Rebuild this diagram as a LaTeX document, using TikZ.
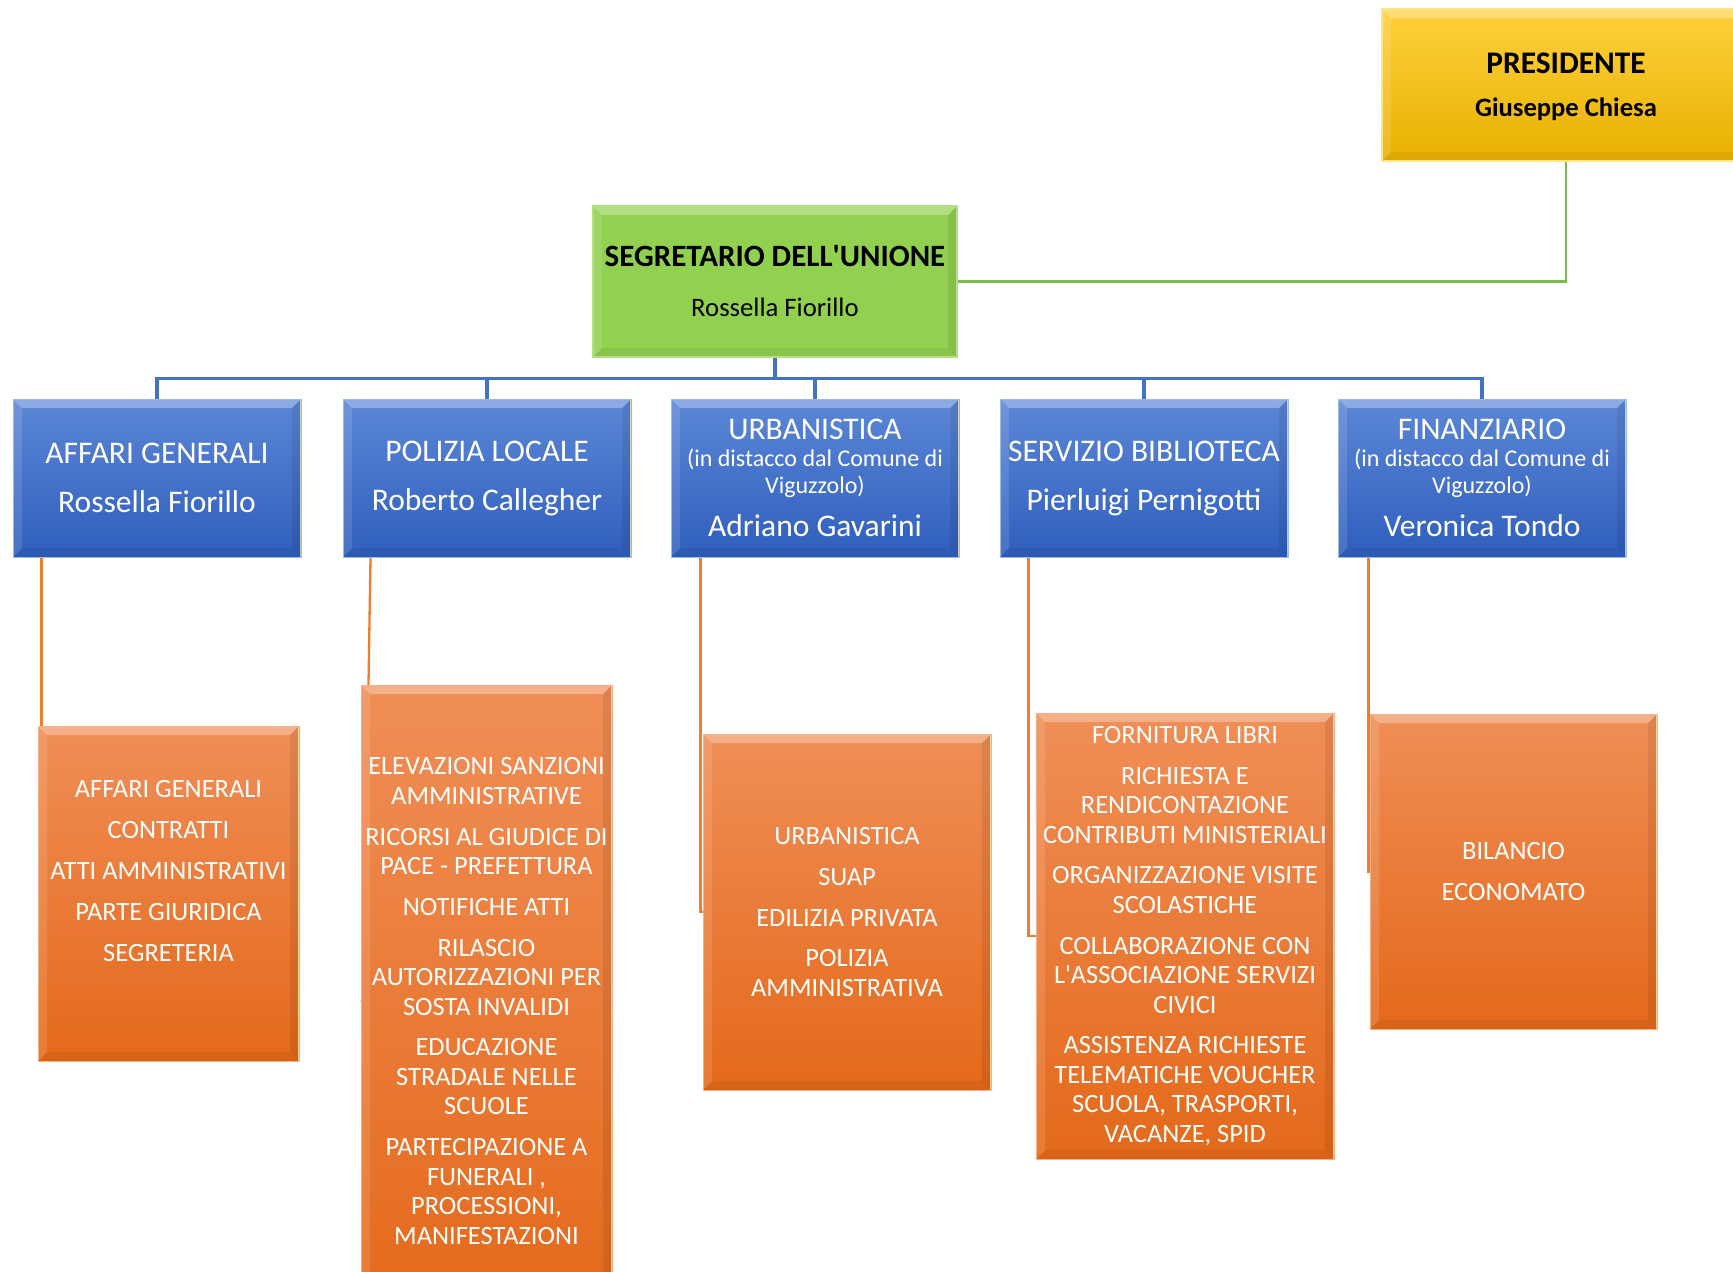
\documentclass[tikz,border=0pt]{standalone}
\usepackage{fontspec}
\setmainfont{Carlito}
\usetikzlibrary{calc}
\definecolor{goldT}{HTML}{FFD03C}
\definecolor{goldB}{HTML}{E8B100}
\definecolor{greenF}{HTML}{92D050}
\definecolor{blueT}{HTML}{5C87D7}
\definecolor{blueB}{HTML}{2F5EBD}
\definecolor{oraT}{HTML}{F08E57}
\definecolor{oraB}{HTML}{E4691A}
\definecolor{blinecol}{HTML}{4472C4}
\definecolor{glinecol}{HTML}{7ABD4C}
\definecolor{olinecol}{HTML}{ED7D31}
\pgfdeclarelayer{bg}
\pgfsetlayers{bg,main}
\tikzset{
  bevel/.style={path picture={
    \path (path picture bounding box.north west) coordinate (bvNW)
          (path picture bounding box.north east) coordinate (bvNE)
          (path picture bounding box.south west) coordinate (bvSW)
          (path picture bounding box.south east) coordinate (bvSE);
    \fill[white,opacity=.30] (bvNW) -- (bvNE) -- ([shift={(-9pt,-9pt)}]bvNE) -- ([shift={(9pt,-9pt)}]bvNW) -- cycle;
    \fill[white,opacity=.12] (bvNW) -- ([shift={(9pt,-9pt)}]bvNW) -- ([shift={(9pt,9pt)}]bvSW) -- (bvSW) -- cycle;
    \fill[black,opacity=.08] (bvNE) -- (bvSE) -- ([shift={(-9pt,9pt)}]bvSE) -- ([shift={(-9pt,-9pt)}]bvNE) -- cycle;
    \fill[black,opacity=.05] (bvSW) -- (bvSE) -- ([shift={(-9pt,9pt)}]bvSE) -- ([shift={(9pt,9pt)}]bvSW) -- cycle;
    \draw[white!70!yellow,line width=3pt,opacity=.7] (bvNE) -- (bvSE);
  }},
  box/.style={rectangle, inner sep=0pt, align=flush center, bevel},
  presbox/.style={box, top color=goldT, bottom color=goldB, draw=goldT!60!white, line width=1.5pt,
    text=black, minimum width=368, minimum height=152, text width=360},
  secbox/.style={box, fill=greenF, draw=greenF!70!white, line width=1.5pt,
    text=black, minimum width=364, minimum height=151, text width=364},
  bluebox/.style={box, top color=blueT, bottom color=blueB, draw=blueT!60!white, line width=1pt,
    text=white, minimum width=288, minimum height=158, text width=288,
    font=\fontsize{31.5}{38}\selectfont},
  orabox/.style={box, top color=oraT, bottom color=oraB, draw=oraT!70!white, line width=1pt,
    text=white, font=\fontsize{26.4}{29.5}\selectfont},
  gconn/.style={draw=glinecol, line width=2.3pt},
  bconn/.style={draw=blinecol, line width=3.2pt},
  oconn/.style={draw=olinecol, line width=2.3pt},
}
\begin{document}
\begin{tikzpicture}[x=1pt,y=-1pt]
\useasboundingbox (0,0) rectangle (1733,1272);
\begin{pgfonlayer}{bg}
\fill[white] (0,0) rectangle (1733,1272);
\end{pgfonlayer}
\clip (0,0) rectangle (1733,1272);

% top level
\node[presbox] (pres) at (1566,85)
  {{\fontsize{31.4}{36}\selectfont\bfseries PRESIDENTE\par}{\fontsize{26.6}{43}\selectfont\bfseries Giuseppe Chiesa\par}\vspace*{-4pt}};
\node[secbox] (sec) at (775,281.5)
  {{\fontsize{31}{36}\selectfont\bfseries SEGRETARIO DELL\textquotesingle UNIONE\par}{\fontsize{26.7}{50}\selectfont Rossella Fiorillo\par}};

% departments
\node[bluebox] (bAG) at (157,478) {AFFARI GENERALI\\[11pt]Rossella Fiorillo};
\node[bluebox] (bPL) at (487,478) {POLIZIA LOCALE\\[11pt]Roberto Callegher};
\node[bluebox] (bUR) at (815,478)
  {{\fontsize{31.5}{38}\selectfont URBANISTICA\par}{\fontsize{24}{27}\selectfont (in distacco dal Comune di\\Viguzzolo)\par}{\fontsize{31.5}{42.4}\selectfont Adriano Gavarini\par}};
\node[bluebox] (bBI) at (1144,478) {SERVIZIO BIBLIOTECA\\[11pt]Pierluigi Pernigotti};
\node[bluebox] (bFI) at (1482,478)
  {{\fontsize{31.5}{38}\selectfont FINANZIARIO\par}{\fontsize{24}{27}\selectfont (in distacco dal Comune di\\Viguzzolo)\par}{\fontsize{31.5}{42.4}\selectfont Veronica Tondo\par}};

% duties
\node[orabox, minimum width=261, text width=261, minimum height=335] (oAG) at (168.5,893.5)
  {AFFARI GENERALI\\[11.3pt]CONTRATTI\\[11.3pt]ATTI AMMINISTRATIVI\\[11.3pt]PARTE GIURIDICA\\[11.3pt]SEGRETERIA\\[15.5pt]\mbox{}};
\node[orabox, minimum width=251, text width=251, minimum height=632] (oPL) at (486.5,1001)
  {ELEVAZIONI SANZIONI\\AMMINISTRATIVE\\[11.3pt]RICORSI AL GIUDICE DI\\PACE - PREFETTURA\\[11.3pt]NOTIFICHE ATTI\\[11.3pt]RILASCIO\\AUTORIZZAZIONI PER\\SOSTA INVALIDI\\[11.3pt]EDUCAZIONE\\STRADALE NELLE\\SCUOLE\\[11.3pt]PARTECIPAZIONE A\\FUNERALI ,\\PROCESSIONI,\\MANIFESTAZIONI};
\node[orabox, minimum width=288, text width=288, minimum height=356] (oUR) at (847,912)
  {URBANISTICA\\[11.3pt]SUAP\\[11.3pt]EDILIZIA PRIVATA\\[11.3pt]POLIZIA\\AMMINISTRATIVA};
\node[orabox, minimum width=298, text width=298, minimum height=446] (oBI) at (1185,936)
  {FORNITURA LIBRI\\[11.3pt]RICHIESTA E\\RENDICONTAZIONE\\CONTRIBUTI MINISTERIALI\\[11.3pt]ORGANIZZAZIONE VISITE\\SCOLASTICHE\\[11.3pt]COLLABORAZIONE CON\\L\textquotesingle ASSOCIAZIONE SERVIZI\\CIVICI\\[11.3pt]ASSISTENZA RICHIESTE\\TELEMATICHE VOUCHER\\SCUOLA, TRASPORTI,\\VACANZE, SPID};
\node[orabox, minimum width=287, text width=287, minimum height=315] (oFI) at (1513.5,871.5)
  {BILANCIO\\[11.3pt]ECONOMATO};

% connectors
\begin{pgfonlayer}{bg}
\draw[gconn] (pres.south) |- (sec.east);
\foreach \n in {bAG,bPL,bUR,bBI,bFI}
  \draw[bconn] (sec.south) -- ++(0,21) -| (\n.north);
\draw[oconn] ($(bAG.south west)+(29,0)$) |- (oAG.west);
\draw[oconn] ($(bPL.south west)+(28,0)$) -- ($(oPL.north west)+(8,0)$) |- (oPL.west);
\draw[oconn] ($(bUR.south west)+(30,0)$) |- (oUR.west);
\draw[oconn] ($(bBI.south west)+(29,0)$) |- (oBI.west);
\draw[oconn] ($(bFI.south west)+(31,0)$) |- (oFI.west);
\end{pgfonlayer}
\end{tikzpicture}
\end{document}
